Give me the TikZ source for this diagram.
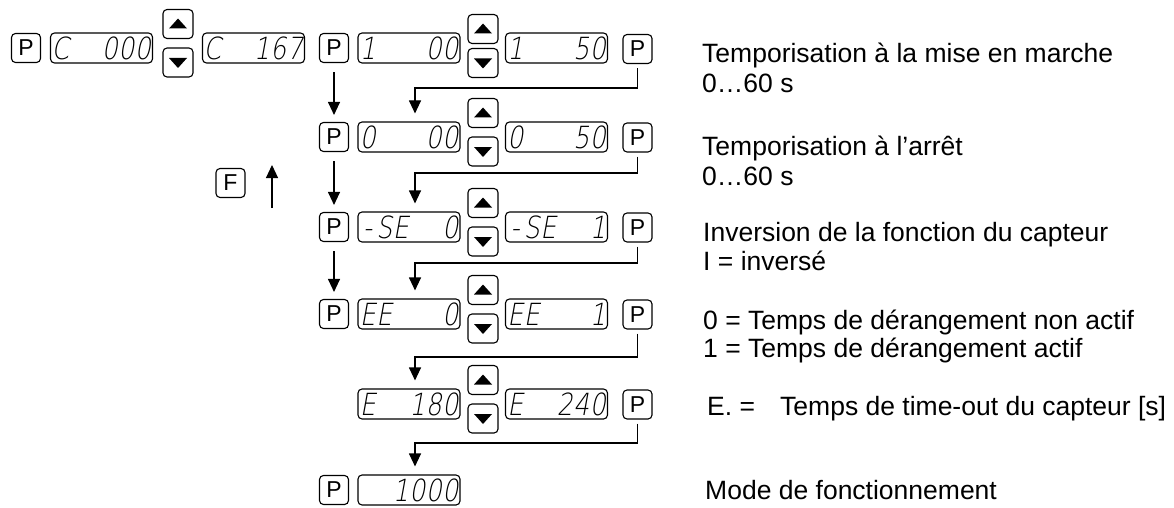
\documentclass[tikz,border=0pt]{standalone}
\usepackage{fontspec}
\setmainfont{Liberation Sans}
\newfontfamily\segfont{DejaVuSans-ExtraLight.ttf}[FakeSlant=0.22]
\usetikzlibrary{arrows.meta}
\tikzset{
  keybox/.style={draw, line width=1.1pt, rounded corners=4pt, minimum width=29pt, minimum height=29pt, inner sep=0pt, font=\fontsize{23}{23}\selectfont},
  dispbox/.style={draw, line width=1.1pt, rounded corners=4pt, minimum width=102pt, minimum height=30pt, inner sep=0pt, font=\segfont\fontsize{25}{25}\selectfont},
  arrbox/.style={draw, line width=1.1pt, rounded corners=4pt, minimum width=30pt, minimum height=29pt, inner sep=0pt},
  conn/.style={line width=1.1pt, -{Triangle[width=12pt,length=13pt]}},
  desc/.style={anchor=base west, inner sep=0pt, font=\fontsize{26.5}{30}\selectfont},
}
\newcommand\sg[1]{\makebox[16.5pt]{#1}}
\newcommand\segtext[6]{\scalebox{1}[1.22]{\sg{#1}\sg{#2}\sg{#3}\sg{#4}\sg{#5}\sg{#6}}}
\newcommand\uptri[1]{\fill (#1.center) ++(-9,4.5) -- ++(18,0) -- ++(-9,-10) -- cycle;}
\newcommand\downtri[1]{\fill (#1.center) ++(-9,-4.5) -- ++(18,0) -- ++(-9,10) -- cycle;}
\begin{document}
\begin{tikzpicture}[x=1pt,y=-1pt]
\useasboundingbox (0,0) rectangle (1174,508);
% row 1
\node[keybox] (p0) at (26,48) {P};
\node[dispbox] (c000) at (101.5,48) {\segtext{C}{ }{ }{0}{0}{0}};
\node[arrbox] (u0) at (178,24) {}; \uptri{u0}
\node[arrbox] (d0) at (178,62.5) {}; \downtri{d0}
\node[dispbox] (c167) at (253.5,48) {\segtext{C}{ }{ }{1}{6}{7}};
\node[keybox] (pl1) at (334,48) {P};
\node[dispbox] (da1) at (409,48) {\segtext{1}{ }{ }{ }{0}{0}};
\node[arrbox] (u1) at (483,29) {}; \uptri{u1}
\node[arrbox] (d1) at (483,63) {}; \downtri{d1}
\node[dispbox] (db1) at (556.5,48) {\segtext{1}{ }{ }{ }{5}{0}};
\node[keybox] (pr1) at (637.5,49) {P};
% row 2
\node[keybox] (pl2) at (334,137) {P};
\node[dispbox] (da2) at (409,137) {\segtext{0}{ }{ }{ }{0}{0}};
\node[arrbox] (u2) at (483,113) {}; \uptri{u2}
\node[arrbox] (d2) at (483,151.5) {}; \downtri{d2}
\node[dispbox] (db2) at (556.5,137) {\segtext{0}{ }{ }{ }{5}{0}};
\node[keybox] (pr2) at (637.5,137.5) {P};
% row 3
\node[keybox] (pl3) at (334,227) {P};
\node[dispbox] (da3) at (409,227) {\segtext{-}{S}{E}{ }{ }{0}};
\node[arrbox] (u3) at (483,203) {}; \uptri{u3}
\node[arrbox] (d3) at (483,241.5) {}; \downtri{d3}
\node[dispbox] (db3) at (556.5,227) {\segtext{-}{S}{E}{ }{ }{1}};
\node[keybox] (pr3) at (637.5,227.5) {P};
% row 4
\node[keybox] (pl4) at (334,314) {P};
\node[dispbox] (da4) at (409,314) {\segtext{E}{E}{ }{ }{ }{0}};
\node[arrbox] (u4) at (483,290) {}; \uptri{u4}
\node[arrbox] (d4) at (483,328.5) {}; \downtri{d4}
\node[dispbox] (db4) at (556.5,314) {\segtext{E}{E}{ }{ }{ }{1}};
\node[keybox] (pr4) at (637.5,314.5) {P};
% row 5
\node[dispbox] (da5) at (409,404) {\segtext{E}{ }{ }{1}{8}{0}};
\node[arrbox] (u5) at (483,380) {}; \uptri{u5}
\node[arrbox] (d5) at (483,418.5) {}; \downtri{d5}
\node[dispbox] (db5) at (556.5,404) {\segtext{E}{ }{ }{2}{4}{0}};
\node[keybox] (pr5) at (637.5,404.5) {P};
% row 6
\node[keybox] (pl6) at (334,490) {P};
\node[dispbox] (da6) at (409,490) {\segtext{ }{ }{1}{0}{0}{0}};
% F key
\node[keybox] (f) at (230.5,183) {F};
\coordinate (fa) at (272,208);
\coordinate (fb) at (272,165);
\draw[conn] (fa) -- (fb);
% left column arrows
\draw[conn, shorten <=9pt, shorten >=7pt] (pl1.south) -- (pl2.north);
\draw[conn, shorten <=9pt, shorten >=7pt] (pl2.south) -- (pl3.north);
\draw[conn, shorten <=9pt, shorten >=7pt] (pl3.south) -- (pl4.north);
% right connectors
\coordinate (k1) at (415,88);
\coordinate (k2) at (415,173);
\coordinate (k3) at (415,263);
\coordinate (k4) at (415,357);
\coordinate (k5) at (415,443);
\draw[conn, shorten <=4pt, shorten >=8pt] (pr1.south) |- (k1) -- (k1 |- da2.north);
\draw[conn, shorten <=4pt, shorten >=8pt] (pr2.south) |- (k2) -- (k2 |- da3.north);
\draw[conn, shorten <=4pt, shorten >=8pt] (pr3.south) |- (k3) -- (k3 |- da4.north);
\draw[conn, shorten <=4pt, shorten >=8pt] (pr4.south) |- (k4) -- (k4 |- da5.north);
\draw[conn, shorten <=4pt, shorten >=8pt] (pr5.south) |- (k5) -- (k5 |- da6.north);
% descriptions
\node[desc] (t1) at (702,62.5) {Temporisation à la mise en marche};
\node[desc] (t2) at (702,92.5) {0…60 s};
\node[desc] (t3) at (702,155.5) {Temporisation à l’arrêt};
\node[desc] (t4) at (702,185.5) {0…60 s};
\node[desc] (t5) at (703,241.5) {Inversion de la fonction du capteur};
\node[desc] (t6) at (703,270.5) {I = inversé};
\node[desc] (t7) at (703,329.5) {0 = Temps de dérangement non actif};
\node[desc] (t8) at (703,357.5) {1 = Temps de dérangement actif};
\node[desc] (t9) at (707,415.5) {\makebox[73pt][l]{E. =}Temps de time-out du capteur [s]};
\node[desc] (t10) at (705,499.5) {Mode de fonctionnement};
\end{tikzpicture}
\end{document}
